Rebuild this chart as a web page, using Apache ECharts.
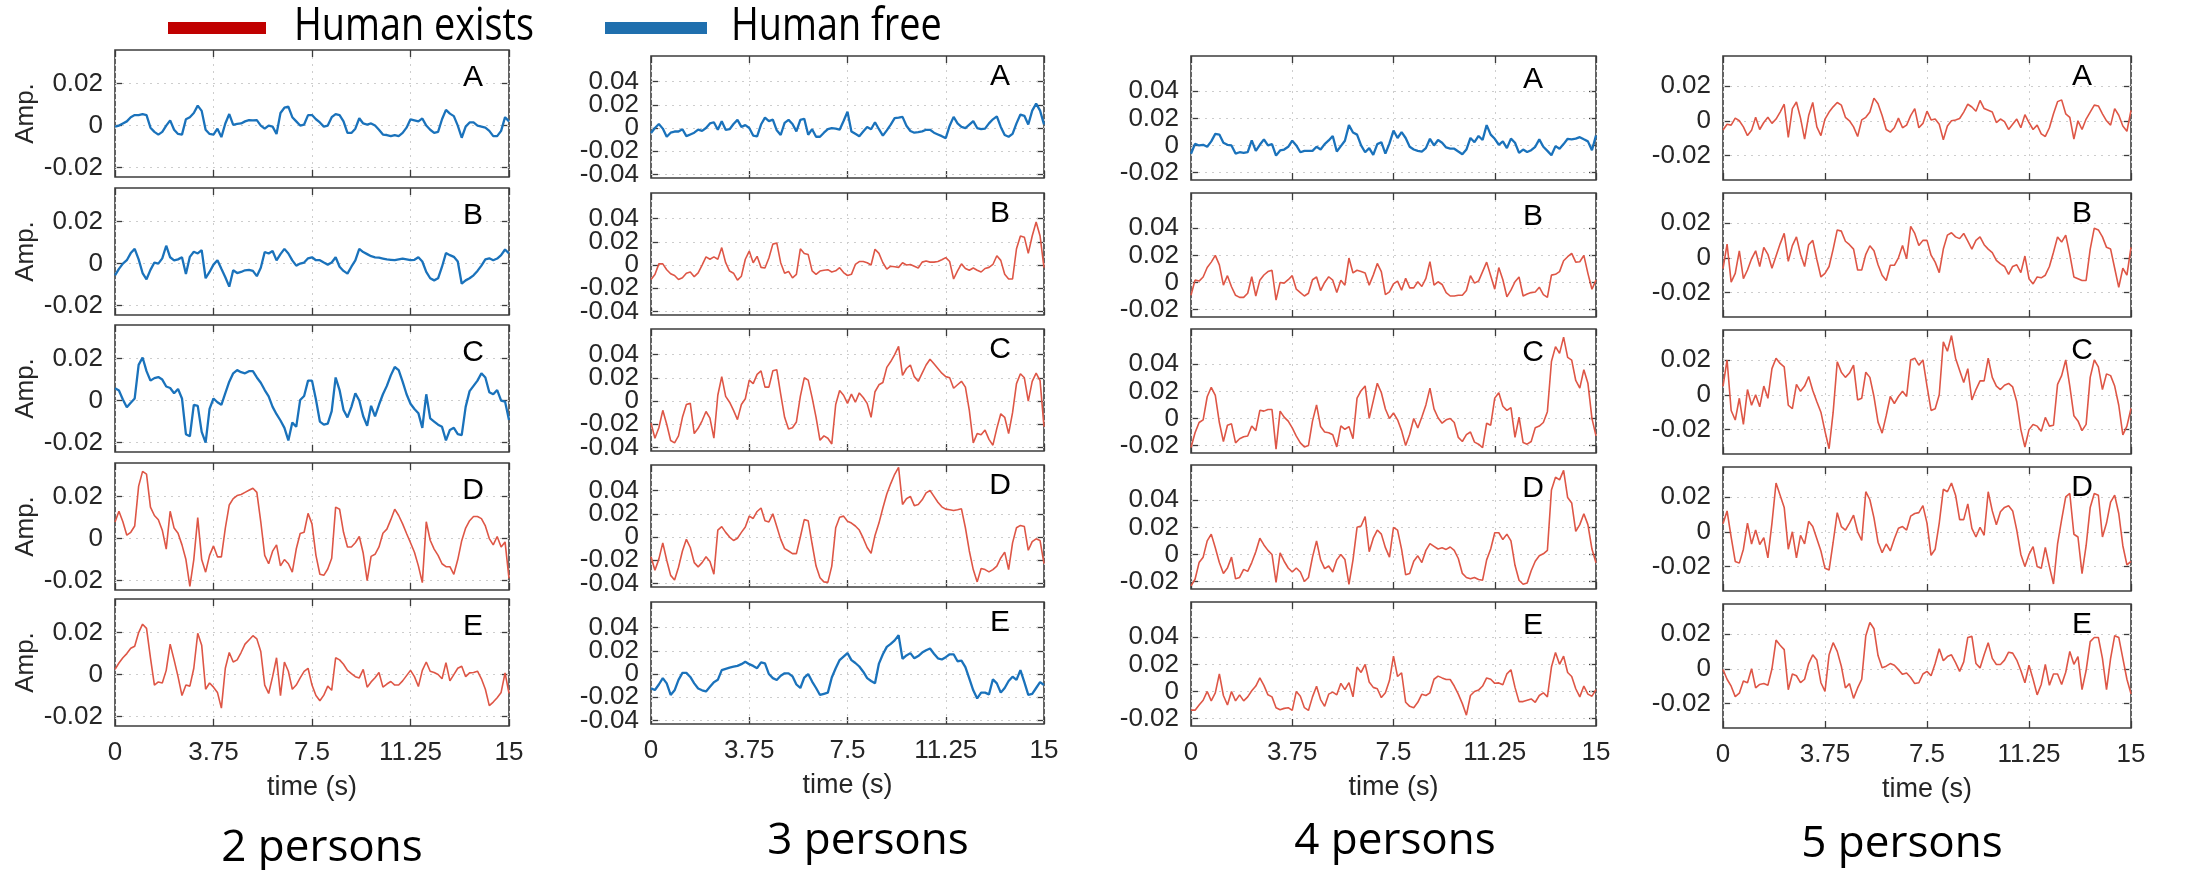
<!DOCTYPE html>
<html><head><meta charset="utf-8">
<script src="https://cdn.jsdelivr.net/npm/echarts@6/dist/echarts.min.js"></script>
<style>html,body{margin:0;padding:0;background:#fff}#c{width:2196px;height:870px}</style>
</head><body><div id="c"></div>
<script>
// ---------------- data ----------------
const TIME = [0,.15,.3,.45,.6,.75,.9,1.05,1.2,1.35,1.5,1.65,1.8,1.95,2.1,2.25,2.4,2.55,2.7,2.85,3,3.15,3.3,3.45,3.6,3.75,3.9,4.05,4.2,4.35,4.5,4.65,4.8,4.95,5.1,5.25,5.4,5.55,5.7,5.85,6,6.15,6.3,6.45,6.6,6.75,6.9,7.05,7.2,7.35,7.5,7.65,7.8,7.95,8.1,8.25,8.4,8.55,8.7,8.85,9,9.15,9.3,9.45,9.6,9.75,9.9,10.05,10.2,10.35,10.5,10.65,10.8,10.95,11.1,11.25,11.4,11.55,11.7,11.85,12,12.15,12.3,12.45,12.6,12.75,12.9,13.05,13.2,13.35,13.5,13.65,13.8,13.95,14.1,14.25,14.4,14.55,14.7,14.85,15];
const X_TICKS = [0, 3.75, 7.5, 11.25, 15];
const PANEL_LETTERS = ['A','B','C','D','E'];
const COLUMN_TITLES = ['2 persons','3 persons','4 persons','5 persons'];
const LEGEND_NAMES = ['Human exists','Human free'];
const Y_TICKS_2P = [-0.02, 0, 0.02];
const Y_TICKS_3P = [-0.04, -0.02, 0, 0.02, 0.04];
const Y_TICKS_4P = [-0.02, 0, 0.02, 0.04];
const Y_TICKS_5P = [-0.02, 0, 0.02];
const STATUS_2P = ['free','free','free','exists','exists'];
const STATUS_3P = ['free','exists','exists','exists','free'];
const STATUS_4P = ['free','exists','exists','exists','exists'];
const STATUS_5P = ['exists','exists','exists','exists','exists'];

const P2_A = [-.0005,0,.001,.002,.004,.005,.005,.0055,.005,-.001,-.003,-.0043,-.003,0,.0025,-.002,-.004,-.0043,.003,.004,.006,.0095,.007,-.002,-.004,-.0043,-.0015,-.0055,.001,.0055,.0003,.0008,.001,.002,.0026,.0025,.0026,0,-.0015,0,-.0005,-.004,.006,.0085,.009,.004,.002,0,.0005,.005,.005,.003,.0015,-.0005,0,.004,.0055,.005,.002,-.0035,-.0035,-.0015,.0035,.001,.0005,.001,0,-.002,-.0043,-.0045,-.005,-.0045,-.005,-.0035,-.001,.003,.0025,.002,.0034,0,-.002,-.0035,-.003,.003,.0075,.0057,.0045,0,-.0058,-.0005,.0015,.0015,0,-.0005,-.001,-.0025,-.005,-.005,-.0025,.004,.002];
const P2_B = [-.0056,-.0025,0,.0016,.005,.007,.002,-.0045,-.0075,-.003,.0005,0,.0025,.0085,.003,.0015,.002,.003,-.005,.0032,.0056,.0048,.0064,-.007,-.004,-.0005,.0016,-.0025,-.0065,-.011,-.0032,-.0045,-.004,-.0032,-.003,-.0035,-.006,-.002,.0055,.0048,.006,.0015,.0045,.007,.0048,.0015,-.001,0,.0005,.0025,.003,.0016,.0016,.0005,-.0005,.0005,.003,-.0015,-.0035,-.0048,-.0015,.0015,.007,.0055,.0045,.0035,.003,.0028,.0024,.002,.0018,.0016,.002,.0024,.002,.0016,.0018,.003,.001,-.004,-.007,-.008,-.007,-.0015,.005,.004,.0032,.001,-.0096,-.008,-.007,-.0056,-.0035,-.001,.002,.0025,.0016,.0024,.004,.0067,.0048];
const P2_C = [.0059,.0048,.0005,-.0032,-.001,.001,.017,.0205,.014,.0095,.0107,.0112,.01,.0067,.006,.0035,.0055,.001,-.016,-.017,-.002,-.0025,-.0149,-.02,-.004,.001,-.0008,-.002,.0035,.009,.013,.0145,.0135,.013,.014,.014,.011,.0085,.005,.002,-.003,-.0065,-.0095,-.013,-.019,-.0105,-.0125,.0003,.0022,.0095,.0095,.0005,-.01,-.0115,-.011,-.005,.011,.005,-.0045,-.008,-.003,.0035,0,-.0075,-.012,-.0025,-.0075,-.002,.003,.007,.012,.016,.0145,.009,.003,-.0015,-.004,-.006,-.013,.003,-.0085,-.01,-.0115,-.0125,-.019,-.014,-.013,-.016,-.0165,-.003,.0045,.007,.0095,.013,.011,.004,.003,.005,0,-.0005,-.0093];
const P2_D = [.0079,.013,.008,.0016,.003,.006,.025,.032,.0307,.015,.011,.009,.004,-.005,.013,.005,.0025,-.003,-.01,-.0228,-.01,.01,-.01,-.016,-.008,-.0035,-.0087,-.0087,.005,.016,.019,.0205,.021,.022,.023,.024,.022,.008,-.008,-.012,-.006,-.003,-.013,-.01,-.012,-.016,-.005,.0024,.003,.012,.007,-.008,-.017,-.0175,-.0145,-.0094,.015,.014,.003,-.004,-.004,-.002,.001,-.007,-.02,-.0085,-.0075,-.004,.0025,.0045,.009,.014,.011,.007,.0024,-.002,-.0065,-.013,-.021,.008,-.0008,-.005,-.008,-.012,-.0134,-.0134,-.017,-.01,-.001,.005,.0085,.0105,.0105,.0095,.006,0,-.003,.001,-.004,-.0016,-.019];
const P2_E = [.0025,.0055,.008,.01,.0125,.0135,.02,.024,.022,.008,-.005,-.0035,-.004,.002,.0145,.007,-.001,-.01,-.005,-.0055,.003,.0197,.014,-.007,-.004,-.006,-.0085,-.016,.003,.0105,.006,.007,.0105,.0145,.0165,.0185,.017,.011,-.005,-.009,-.001,.008,-.01,.006,.0016,-.007,-.005,-.0016,.0015,.003,-.005,-.01,-.0125,-.0098,-.0055,-.0075,.008,.007,.0049,.002,.0005,-.001,-.0016,.0025,-.006,-.0035,-.0015,.001,-.006,-.0045,-.0033,-.005,-.005,-.003,-.0005,.002,-.001,-.0057,.002,.006,.0016,.001,0,-.002,.0057,-.003,0,.003,.004,-.001,.0008,.001,.0016,-.002,-.007,-.0148,-.0131,-.011,-.0085,.0008,-.009];

const P3_A = [-.0043,0,.0035,-.0005,-.0075,-.004,-.003,-.003,-.001,-.007,-.0055,-.004,-.0014,-.0025,0,.004,.005,-.0014,.0058,-.0015,-.001,.0035,.007,.001,.0025,0,-.0065,-.0072,.003,.009,.006,.0072,-.002,-.006,.0045,.007,.0035,-.0029,.007,.008,-.0058,-.001,-.0075,-.0075,-.004,-.001,0,-.0005,-.0014,.006,.014,-.0029,-.005,-.007,-.003,.0009,-.001,.005,-.001,-.0065,-.002,.003,.0085,.009,.0096,.002,-.0025,-.004,-.0035,-.0029,-.0015,-.0015,-.004,-.0055,-.007,-.0087,.002,.0096,.004,.001,0,.003,.006,0,-.001,-.0005,.004,.0075,.01,.001,-.006,-.0075,-.005,.004,.0116,.0105,.003,.015,.021,.015,.003];
const P3_B = [-.0125,-.0081,.001,.001,-.004,-.0075,-.009,-.0125,-.011,-.007,-.006,-.01,-.0067,0,.007,.005,.007,.005,.015,.002,-.0052,-.007,-.013,-.0096,.005,.012,.002,.0075,-.002,-.0025,.006,.018,.019,.002,-.007,-.0055,-.011,-.008,.014,.01,.009,-.005,-.008,-.0052,-.0045,-.004,-.006,-.005,-.0023,-.0065,-.009,-.008,.0005,.003,.003,.002,0,.0136,.01,.002,-.0035,-.001,-.0015,-.002,.002,0,.0005,-.001,-.0025,.0025,.0035,.0025,.0025,.003,.0045,.0064,.003,-.012,-.005,.001,-.003,-.0045,-.0025,-.0045,-.006,-.003,-.002,.0005,.008,.004,-.008,-.012,-.012,.014,.025,.024,.01,.025,.037,.025,-.0023];
const P3_C = [-.019,-.032,-.023,-.008,-.02,-.034,-.036,-.03,-.014,-.003,-.002,-.028,-.0235,-.017,-.009,-.0147,-.032,.005,.021,.004,-.001,-.008,-.016,-.003,.002,.018,.015,.023,.026,.012,.012,.026,.027,.006,-.014,-.024,-.023,-.018,.004,.02,.018,.003,-.014,-.0338,-.03,-.032,-.037,-.003,.009,.005,-.002,.0059,-.001,.007,.003,-.002,-.014,.008,.014,.016,.029,.034,.04,.047,.022,.028,.031,.021,.017,.024,.031,.036,.032,.028,.024,.021,.02,.011,.014,.017,.012,-.008,-.036,-.028,-.029,-.025,-.033,-.038,-.0235,-.011,-.014,-.028,-.01,.015,.0235,.02,0,.017,.024,.0176,-.022];
const P3_D = [-.017,-.0286,-.019,-.005,-.02,-.033,-.037,-.026,-.012,-.002,-.009,-.022,-.0257,-.022,-.017,-.021,-.032,.006,.009,.004,0,-.003,-.001,.004,.0086,.018,.016,.022,.025,.014,.013,.02,.009,-.002,-.01,-.012,-.0143,-.0143,0,.015,.014,-.006,-.025,-.035,-.0386,-.039,-.025,.008,.017,.018,.0135,.012,.0095,.006,-.001,-.009,-.014,.0014,.012,.025,.037,.046,.054,.06,.028,.033,.035,.027,.028,.032,.038,.04,.035,.03,.026,.024,.0235,.0229,.0235,.0243,.008,-.012,-.028,-.0386,-.027,-.028,-.03,-.028,-.025,-.018,-.013,-.028,-.005,.008,.01,.009,-.0114,-.004,-.0015,-.003,-.0229];
const P3_E = [-.0123,-.0137,-.009,-.0035,-.008,-.018,-.014,-.005,.001,.001,-.0025,-.008,-.0125,-.014,-.015,-.011,-.007,-.005,.0034,.0045,.0055,.0063,.007,.0085,.0106,.0085,.007,.005,.01,.0091,0,-.0035,-.0051,-.0015,.0006,.0006,-.002,-.009,-.012,-.003,0,-.0065,-.012,-.018,-.017,-.016,-.003,.005,.012,.015,.018,.012,.0095,.0065,.002,-.0035,-.006,-.008,.009,.017,.0234,.026,.029,.0334,.013,.016,.018,.0135,.0155,.0185,.0205,.022,.0175,.0135,.0125,.0145,.017,.017,.011,.0115,.006,-.004,-.014,-.021,-.016,-.016,-.0175,-.0045,-.008,-.016,-.012,-.006,-.0023,-.005,.0034,-.007,-.018,-.017,-.012,-.007,-.0094];

const P4_A = [-.0061,.0012,0,.0005,-.001,.003,.0085,.008,.002,.0005,0,-.006,-.005,-.0055,-.005,.0037,-.004,.0005,.0045,0,.001,-.0075,-.0037,-.003,-.001,.0035,0,-.005,-.004,-.004,-.004,-.001,-.003,.001,.0037,.007,-.0045,-.0005,.0035,.015,.0095,.008,0,-.005,-.002,-.007,.001,.0024,-.006,.0015,.011,.0055,.0098,.0055,-.001,-.003,-.004,-.0045,-.002,.0049,0,.004,.002,-.0015,-.0024,-.0024,-.0045,-.0065,-.003,.0055,.0024,.007,.004,.015,.008,.0049,.0005,.003,-.002,.005,.002,-.0055,-.003,-.0049,-.0035,-.001,.0045,-.001,-.004,-.0073,-.0005,-.0025,.001,.0049,.0045,.005,.0061,.0045,.003,-.0035,.0073];
const P4_B = [-.0094,.0017,.001,.004,.011,.015,.02,.013,-.002,.005,-.0032,-.0095,-.011,-.011,-.008,.0042,-.01,.0017,.0055,.008,.009,-.013,0,-.0005,.002,.005,-.005,-.0075,-.01,-.008,.002,.004,-.006,0,.0042,.0017,-.0075,.0017,-.002,.018,.007,.009,.008,.007,-.002,.0054,.014,.008,-.009,-.007,-.001,.001,-.0057,.003,-.004,-.004,.0005,-.003,.003,.0153,-.002,.0005,-.0015,-.0075,-.01,-.01,-.0094,-.0095,-.006,.005,-.0005,.001,.008,.015,.005,-.005,.011,.002,-.0106,-.0057,.0005,.004,-.01,-.0085,-.0075,-.007,-.0035,-.009,-.011,.0054,.006,.008,.016,.019,.0215,.015,.0153,.02,.0067,-.005,.0017];
const P4_C = [-.0215,-.0105,-.003,-.001,.016,.023,.017,-.003,-.017,-.005,-.004,-.018,-.015,-.0135,-.013,-.0056,-.009,.006,.0054,.0066,.0066,-.0227,.0054,.001,-.002,-.007,-.013,-.018,-.021,-.02,-.002,.01,-.006,-.01,-.0105,-.012,-.021,-.0055,-.008,-.006,-.015,.015,.0205,.024,0,.013,.026,.019,.007,0,.004,-.001,-.009,-.02,-.0117,0,-.007,.001,.01,.0224,.007,.0005,-.0035,-.001,0,-.003,-.014,-.017,-.012,-.01,-.0175,-.019,-.0215,-.0035,-.005,.015,.019,.009,.006,.008,-.014,.001,-.0178,-.019,-.017,-.0068,-.0056,-.003,.005,.042,.053,.048,.06,.045,.043,.028,.0224,.036,.026,0,-.0129];
const P4_D = [-.0232,-.0183,-.006,-.002,.01,.015,.005,-.006,-.014,-.01,-.002,-.018,-.017,-.011,-.0125,-.006,.002,.012,.007,.003,0,-.0207,.0012,-.005,-.01,-.013,-.01,-.013,-.02,-.017,-.002,.01,-.004,-.0105,-.0085,-.013,-.004,0,-.0037,-.022,-.004,.02,.021,.028,.002,.012,.018,.015,.005,-.002,.02,.018,.0037,-.015,-.014,-.005,-.001,-.006,.003,.008,.006,.004,.0049,.0037,.0055,.003,-.003,-.014,-.017,-.018,-.017,-.0185,-.019,-.004,.004,.016,.016,.011,.015,.01,-.008,-.019,-.022,-.021,-.012,-.005,-.001,.0005,.003,.0476,.057,.055,.062,.042,.038,.017,.022,.03,.022,.004,-.0061];
const P4_E = [-.0138,-.0138,-.01,-.0065,0,-.007,-.001,.013,-.003,-.01,0,-.007,-.0025,-.007,-.004,.0005,.004,.01,.0045,-.0025,-.004,-.012,-.0135,-.0125,-.012,-.014,0,-.0035,-.012,-.014,-.004,.0038,-.006,-.011,-.002,-.0005,-.0025,.006,.0013,.0065,-.004,.018,.014,.02,.007,.003,.002,-.0045,-.001,.008,.026,.011,.0138,-.008,-.011,-.012,-.008,-.002,-.003,-.001,.009,.0113,.01,.0088,.0088,.004,-.002,-.009,-.0175,-.003,0,.001,.004,.01,.009,.006,.0063,.005,.013,.016,.003,-.0075,-.0075,-.0065,-.0055,-.008,-.003,-.001,-.004,.018,.0288,.02,.026,.014,.011,.002,-.004,.004,-.002,-.0035,.0013];

const P5_A = [-.0053,-.002,-.0025,.0015,0,-.0035,-.0085,-.0055,.002,-.005,-.001,.002,-.0015,.001,.005,.0095,-.0095,.007,.0108,.0015,-.0105,.003,.0105,-.0035,-.0085,.001,.005,.008,.0105,.009,.002,0,-.0035,-.009,.0005,.002,.005,.013,.0098,.003,-.005,-.0065,-.004,.0015,-.004,-.0025,.003,.007,-.004,-.0015,.0055,.0005,.001,-.002,-.0109,-.003,0,.0005,.0013,.005,.0095,.0079,.0055,.0117,.007,.006,.005,-.001,.001,-.0005,-.005,-.002,.001,-.004,.0035,-.001,-.005,-.0025,-.0075,-.009,-.004,.004,.011,.012,.004,.002,-.0105,0,-.005,.001,.005,.009,.0085,.004,0,-.0025,.007,.0032,-.003,-.006,.006];
const P5_B = [-.0062,.0079,-.014,-.009,.004,-.012,-.007,-.0006,.004,-.005,.006,.002,-.006,.001,.008,.014,-.002,.007,.012,.002,-.005,.0075,.01,-.001,-.011,-.009,-.005,.005,.016,.0153,.0095,.0075,.005,-.007,-.007,.002,.0069,.004,-.004,-.01,-.013,-.0043,-.0043,0,.007,-.0006,.018,.014,.007,.01,.01,.0015,-.0025,-.0085,.005,.013,.0144,.012,.011,.014,.0095,.005,.01,.012,.0075,.005,.003,-.0015,-.0035,-.005,-.0095,-.005,-.004,-.0085,.001,-.012,-.015,-.011,-.0115,-.01,-.005,.0032,.012,.009,.013,.002,-.011,-.012,-.013,-.013,.005,.017,.016,.012,.006,.005,-.006,-.017,-.006,-.01,.006];
const P5_C = [.0049,.02,-.009,-.0145,-.002,-.017,.003,-.006,0,-.0069,.005,-.002,.015,.021,.018,.016,-.006,-.008,.006,.002,.005,.0105,.0025,-.004,-.01,-.021,-.031,-.01,.019,.013,.01,.0125,.017,-.003,-.002,.013,.01,-.001,-.0157,-.022,-.012,-.001,-.005,-.001,.002,-.001,.02,.021,.017,.02,.005,-.009,-.008,0,.0304,.025,.034,.021,.014,.007,.015,-.003,.003,.008,.008,.021,.01,.005,.003,.0055,.0065,.0045,-.004,-.02,-.03,-.02,-.017,-.018,-.021,-.013,-.018,-.0175,.006,.011,.02,.005,-.012,-.015,-.0206,-.017,.01,.02,.016,.003,.012,.011,.005,-.006,-.023,-.018,-.0078];
const P5_D = [.0046,.012,-.003,-.017,-.018,-.01,.005,-.007,.001,-.0073,-.0034,-.015,.005,.028,.021,.014,-.01,0,-.015,-.002,-.007,.006,.003,-.004,-.011,-.021,-.022,-.006,.011,.003,.001,.005,.0095,0,-.005,.023,.0184,.008,-.006,-.012,-.007,-.011,-.004,.002,.003,.001,.009,.0105,.011,.015,.005,-.0135,-.01,.005,.0244,.023,.028,.021,.007,.007,.016,.002,-.003,.0026,-.002,.023,.012,.004,.0115,.014,.015,.012,.001,-.013,-.02,-.013,-.0085,-.02,-.021,-.009,-.02,-.03,-.007,.007,.02,.022,-.0014,-.003,-.024,-.008,.014,.022,.021,-.003,.005,.017,.021,.0105,-.008,-.019,-.017];
const P5_E = [-.0004,-.006,-.01,-.016,-.014,-.007,-.008,0,-.011,-.009,-.0085,-.0095,0,.0165,.0135,.011,-.012,-.003,-.004,-.008,-.006,.003,.008,.005,-.008,-.013,.008,.015,.01,.0015,-.011,-.0085,-.017,-.011,-.006,.019,.0266,.023,.0076,.0006,.0015,.003,.002,-.0005,-.0032,-.0024,-.005,-.0085,-.008,-.003,-.0015,-.004,.003,.0115,.0046,.007,.008,.0035,-.0015,.004,.018,.0186,.003,.0005,.008,.015,.006,.0025,.0025,.005,.0095,.009,.005,-.001,-.008,.002,-.006,-.015,-.009,.0025,-.0095,-.003,-.003,-.009,-.002,.01,.0026,.007,-.012,-.001,.0156,.018,.018,.006,-.012,.006,.019,.018,.006,-.006,-.0144];

// ---------------- layout & style ----------------
const COLUMNS = [
  {title: COLUMN_TITLES[0], yTicks: Y_TICKS_2P, status: STATUS_2P, series: [P2_A, P2_B, P2_C, P2_D, P2_E]},
  {title: COLUMN_TITLES[1], yTicks: Y_TICKS_3P, status: STATUS_3P, series: [P3_A, P3_B, P3_C, P3_D, P3_E]},
  {title: COLUMN_TITLES[2], yTicks: Y_TICKS_4P, status: STATUS_4P, series: [P4_A, P4_B, P4_C, P4_D, P4_E]},
  {title: COLUMN_TITLES[3], yTicks: Y_TICKS_5P, status: STATUS_5P, series: [P5_A, P5_B, P5_C, P5_D, P5_E]}
];
const LAYOUT = [
  {left:115, width:394, tops:[50,188,325,463,599], height:127, ymin:-0.0245, ymax:0.036, lx:36, ly:28, tx:322, ty:848},
  {left:651, width:393, tops:[56,193,329,465,602], height:122, ymin:-0.043, ymax:0.062, lx:44, ly:21, tx:868, ty:841},
  {left:1191, width:405, tops:[56,193,329,465,602], height:124, ymin:-0.0255, ymax:0.066, lx:63, ly:24, tx:1395, ty:841},
  {left:1723, width:408, tops:[56,193,330,467,604], height:124, ymin:-0.034, ymax:0.0372, lx:49, ly:21, tx:1902, ty:844}
];
const RED = '#DE5646', BLUE = '#1A72BB';
const FRAME = '#3c3c3c', TXT = '#262626', GRIDC = '#cdcdcd';
const FONT = 'Liberation Sans, Arial, sans-serif';
const TITLE_FONT = 'Open Sans, Lato, sans-serif';

const grids = [], xAxes = [], yAxes = [], series = [], graphics = [];
let bad = [];
const fmtY = v => String(Math.round(v * 1000) / 1000);
COLUMNS.forEach((col, c) => {
  const L = LAYOUT[c];
  // split tick labels into two interleaved sets so that closely spaced labels are all drawn
  const evenTicks = col.yTicks.filter((v, k) => k % 2 === 0);
  const oddTicks = col.yTicks.filter((v, k) => k % 2 === 1);
  col.series.forEach((vals, r) => {
    if (vals.length !== TIME.length) bad.push(col.title + ' ' + PANEL_LETTERS[r] + ':' + vals.length);
    const gi = grids.length;
    grids.push({left:L.left, top:L.tops[r], width:L.width, height:L.height, show:true,
      borderColor:FRAME, borderWidth:1.6, backgroundColor:'#fff', containLabel:false, outerBoundsMode:'none'});
    const tick = {show:true, inside:true, length:7, lineStyle:{color:FRAME, width:1.3}};
    const last = r === 4;
    xAxes.push({gridIndex:gi, type:'value', min:0, max:15, interval:3.75, position:'bottom',
      axisLine:{show:false, onZero:false}, axisTick:tick,
      axisLabel:{show:last, fontSize:26, color:TXT, margin:14, fontFamily:FONT, hideOverlap:false,
        formatter: v => String(v)},
      splitLine:{show:true, lineStyle:{color:GRIDC, type:[2,5], width:1}},
      name: last ? 'time (s)' : '', nameLocation:'middle', nameGap:48,
      nameTextStyle:{fontSize:27, color:TXT, fontFamily:FONT}});
    xAxes.push({gridIndex:gi, type:'value', min:0, max:15, interval:3.75, position:'top',
      axisLine:{show:false, onZero:false}, axisTick:tick, axisLabel:{show:false}, splitLine:{show:false}});
    const labelStyle = {show:true, fontSize:26, color:TXT, margin:12, fontFamily:FONT,
      hideOverlap:false, formatter: fmtY};
    // left axis (data axis): all ticks, even-index labels
    yAxes.push({gridIndex:gi, type:'value', min:L.ymin, max:L.ymax, position:'left',
      axisLine:{show:false, onZero:false}, axisTick:Object.assign({customValues:col.yTicks}, tick),
      axisLabel:Object.assign({customValues:evenTicks}, labelStyle),
      splitLine:{show:false},
      name: c === 0 ? 'Amp.' : '', nameLocation:'middle', nameGap:76, nameRotate:90,
      nameTextStyle:{fontSize:26, color:TXT, fontFamily:FONT}});
    // right mirror axis: ticks only
    yAxes.push({gridIndex:gi, type:'value', min:L.ymin, max:L.ymax, position:'right',
      axisLine:{show:false, onZero:false}, axisTick:Object.assign({customValues:col.yTicks}, tick),
      axisLabel:{show:false}, splitLine:{show:false}});
    // left companion axis: odd-index labels
    yAxes.push({gridIndex:gi, type:'value', min:L.ymin, max:L.ymax, position:'left', offset:0,
      axisLine:{show:false, onZero:false}, axisTick:{show:false},
      axisLabel:Object.assign({customValues:oddTicks.length ? oddTicks : [L.ymax * 10]}, labelStyle,
        {show: oddTicks.length > 0}),
      splitLine:{show:false}});
    const free = col.status[r] === 'free';
    series.push({type:'line', name: free ? LEGEND_NAMES[1] : LEGEND_NAMES[0],
      xAxisIndex: 2*gi, yAxisIndex: 3*gi,
      data: TIME.map((t, k) => [t, vals[k]]),
      showSymbol:false, symbol:'none', clip:true, z:3, animation:false,
      emphasis:{disabled:true},
      lineStyle:{color: free ? BLUE : RED, width: free ? 2.3 : 1.6},
      itemStyle:{color: free ? BLUE : RED},
      markLine:{silent:true, symbol:'none', z:1, animation:false, label:{show:false},
        lineStyle:{color:GRIDC, type:[2,5], width:1},
        emphasis:{disabled:true},
        data: col.yTicks.map(v => ({yAxis:v}))}});
    graphics.push({type:'text', x: L.left + L.width - L.lx, y: L.tops[r] + L.ly, z:10,
      style:{text: PANEL_LETTERS[r], fontSize:30, fontFamily:FONT, fill:'#000',
        align:'center', verticalAlign:'middle', textAlign:'center', textVerticalAlign:'middle'}});
  });
  graphics.push({type:'text', x: L.tx, y: L.ty, z:10,
    style:{text: col.title, fontSize:44, fontFamily:TITLE_FONT, fill:'#000',
      align:'center', verticalAlign:'middle', textAlign:'center', textVerticalAlign:'middle'}});
});
// legend
graphics.push({type:'rect', shape:{x:168, y:22, width:98, height:12}, style:{fill:'#C00000'}, z:10});
graphics.push({type:'text', x:294, y:27, z:10, scaleX:0.84,
  style:{text: LEGEND_NAMES[0], fontSize:45, fontFamily:TITLE_FONT, fill:'#000',
    align:'left', verticalAlign:'middle', textAlign:'left', textVerticalAlign:'middle'}});
graphics.push({type:'rect', shape:{x:605, y:22, width:102, height:12}, style:{fill:'#1F6FAE'}, z:10});
graphics.push({type:'text', x:731, y:27, z:10, scaleX:0.84,
  style:{text: LEGEND_NAMES[1], fontSize:45, fontFamily:TITLE_FONT, fill:'#000',
    align:'left', verticalAlign:'middle', textAlign:'left', textVerticalAlign:'middle'}});
if (bad.length) graphics.push({type:'text', x:1200, y:20, z:20, style:{text:'LEN ' + bad.join(' | '), fontSize:16, fill:'#f00'}});

const chart = echarts.init(document.getElementById('c'), null, {renderer:'canvas'});
chart.setOption({
  animation:false,
  backgroundColor:'#fff',
  textStyle:{fontFamily:FONT},
  grid: grids, xAxis: xAxes, yAxis: yAxes, series: series, graphic: graphics
});
</script>
</body></html>
